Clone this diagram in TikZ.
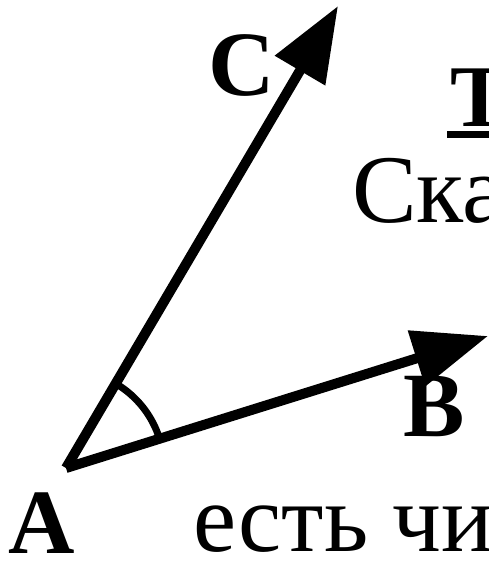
\documentclass[tikz,border=0pt]{standalone}
\usepackage{fontspec}
\setmainfont{Liberation Serif}
\usetikzlibrary{arrows.meta}
\tikzset{
	vec/.style={line width=10pt, -{Triangle[length=75pt,width=56pt]}},
	lbl/.style={font=\fontsize{92}{92}\selectfont\bfseries, inner sep=0pt},
	txt/.style={font=\fontsize{97}{97}\selectfont, inner sep=0pt, anchor=base west},
	angarc/.style={line width=7pt}
}

\begin{document}
\begin{tikzpicture}[x=1pt, y=-1pt]
	\useasboundingbox (0,0) rectangle (489,562);
	\clip (0,0) rectangle (489,562);
	\coordinate (A) at (66,468);
	\coordinate (B) at (488,336);
	\coordinate (C) at (338,6);
	\draw[vec] (A) -- (B);
	\draw[vec] (A) -- (C);
	% angle between AB and AC
	\draw[angarc] (A) ++(17.4:98pt) arc[start angle=17.4, end angle=59.5, radius=98pt];
	% point labels
	\node[lbl] (lA) at (42,523) {A};
	\node[lbl] (lB) at (434,407) {B};
	\node[lbl] (lC) at (242,65) {C};
	% cut text of the slide
	\node[txt, font=\fontsize{88}{88}\selectfont\bfseries] (title) at (450,126) {Т};
	\coordinate (ulEnd) at (489,134);
	\draw[line width=7pt] (title.base west) ++(-3pt,-8pt) -- (ulEnd);
	\node[txt] (line1) at (352,222) {Ска};
	\node[txt] (line2) at (193,551) {есть чи};
\end{tikzpicture}
\end{document}
